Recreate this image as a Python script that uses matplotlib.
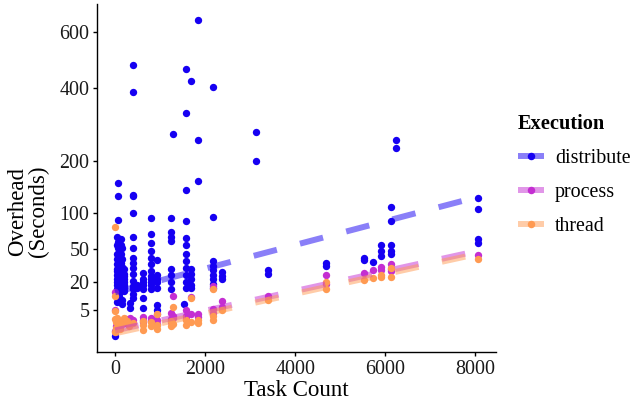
import numpy as np
import matplotlib
matplotlib.use("Agg")
import matplotlib.pyplot as plt
from matplotlib.lines import Line2D

plt.rcParams['font.family'] = ['Liberation Serif', 'DejaVu Serif']

# ---------------- data ----------------
groups = ["distribute", "process", "thread"]
colors = ["#1600F2", "#C42ED2", "#FF9A52"]

# distribute: task count, overhead (s)
dist_x = (
    [1]
    + [32] * 14 + [64] * 15 + [96] * 12 + [128] * 10 + [160] * 10 + [192] * 8
    + [406] * 16 + [333] * 2 + [480] * 2 + [628] * 7 + [800] * 12 + [925] * 7
    + [1235] * 8 + [1280] * 1 + [1537] * 1 + [1574] * 12 + [1685] * 6 + [1840] * 3
    + [2180] * 9 + [2366] * 3 + [3126] * 2 + [3400] * 2 + [4680] * 2
    + [5520] * 2 + [5720] * 1 + [5910] * 3 + [6120] * 5 + [6245] * 2 + [8056] * 4
)
dist_y = (
    [0.01]
    + [8, 12, 15, 18, 20, 22, 25, 28, 30, 35, 40, 45, 55, 65]
    + [9, 13, 16, 19, 22, 24, 27, 31, 36, 44, 52, 58, 153, 128, 88]
    + [11, 15, 18, 20, 23, 26, 30, 34, 39, 47, 55, 62]
    + [14, 18, 20, 22, 25, 30, 36, 45, 55, 62]
    + [17, 19, 21, 23, 27, 32, 40, 52, 9, 7]
    + [18, 20, 22, 24, 26, 16, 14, 30]
    + [477, 389, 131, 128, 99.5, 65, 52, 41, 36, 31, 25.5, 20.4, 17, 15, 12, 10]
    + [7.7, 5.6]
    + [15.8, 18]
    + [26.9, 18, 14.8, 10, 5.6, 22, 20]
    + [91, 68.6, 57.8, 48.1, 40.9, 34.4, 28.3, 18, 14.8, 20, 22, 24]
    + [38.3, 6.9, 5.0, 20, 22, 25, 16]
    + [91.5, 71, 65, 60, 29.8, 25, 20, 14.8]
    + [265]
    + [7.2]
    + [464, 324, 140, 87.5, 64, 55, 45, 37.6, 31.2, 25, 20, 15.8]
    + [424, 30, 26, 22, 18, 15.6]
    + [649, 252, 157]
    + [405, 93.6, 37.6, 33, 29, 25, 21.7, 18.5, 15.8]
    + [27.5, 24.5, 21.9]
    + [271, 201]
    + [28.9, 26]
    + [35.9, 32.8]
    + [40.6, 38.5]
    + [36.5]
    + [55, 48, 43]
    + [110, 87.5, 55, 48, 44.8]
    + [250, 230]
    + [125, 106, 62, 57.8]
)

proc_x = [5, 20, 40, 60, 80, 100, 150, 200, 250, 300, 330, 400, 2, 2,
          628, 628, 628, 800, 800, 925, 925, 925, 1235, 1235, 1235,
          1280, 1280, 1280, 1574, 1574, 1574, 1685, 1685, 1840, 1840,
          2180, 2180, 2180, 2366, 2366, 3400, 4680, 4680,
          5520, 5720, 5910, 5910, 6120, 6120, 6120, 8056]
proc_y = [0.3, 0.8, 1.2, 0.5, 1.5, 1.0, 1.8, 1.3, 2.2, 1.6, 2.5, 1.9, 13.5, 5.0,
          2.0, 2.8, 1.5, 2.5, 1.8, 2.0, 3.5, 1.2, 2.2, 3.8, 1.6,
          11.0, 3.0, 2.5, 4.7, 3.0, 2.2, 3.4, 10.5, 2.6, 3.5,
          16.9, 5.1, 3.8, 8.4, 6.0, 11.3, 25.0, 18.5,
          26.6, 29.0, 31.9, 29.0, 34.6, 28.0, 30.0, 43.7]

thr_x = [2, 5, 5, 5, 5, 10, 20, 30, 50, 70, 90, 120, 160, 200, 260, 300, 400,
         628, 628, 628, 800, 800, 925, 925, 925, 1235, 1235, 1280, 1280,
         1574, 1574, 1685, 1685, 1840, 1840, 2180, 2180, 2180, 2366, 3400,
         4680, 4680, 5520, 5720, 5910, 5910, 6120, 6120, 8056]
thr_y = [78.7, 0.2, 10.9, 4.4, 2.1, 0.4, 1.5, 0.6, 2.5, 0.9, 1.8, 0.5, 1.2, 2.4, 1.8, 0.8, 1.4,
         0.4, 1.8, 1.0, 1.5, 0.8, 3.5, 1.0, 0.5, 0.8, 1.8, 5.85, 1.2,
         0.94, 2.0, 10.0, 1.5, 1.33, 2.0, 14.8, 2.9, 2.0, 5.0, 9.2,
         20.0, 15.0, 21.0, 22.6, 23.4, 25.0, 31.0, 23.4, 39.3]

# linear trend fitted on sqrt(overhead): sqrt(y) = a + b * x
fit_a = [3.62, 0.56, 0.33]
fit_b = [0.000950, 0.000792, 0.000791]

x_ticks = [0, 2000, 4000, 6000, 8000]
y_ticks = [5, 20, 50, 100, 200, 400, 600]

# ---------------- plot ----------------
def fwd(v):
    v = np.asarray(v, dtype=float)
    return np.sign(v) * np.sqrt(np.abs(v))

def inv(v):
    v = np.asarray(v, dtype=float)
    return np.sign(v) * v ** 2

fig = plt.figure(figsize=(6.35, 4.05), dpi=100)
ax = fig.add_axes([97 / 635, 1 - 352 / 405, (496 - 97) / 635, (352 - 4) / 405])
ax.set_yscale('function', functions=(fwd, inv))

xs = [dist_x, proc_x, thr_x]
ys = [dist_y, proc_y, thr_y]

for gx, gy, c in zip(xs, ys, colors):
    ax.scatter(gx, gy, s=28, color=c, linewidths=0, zorder=2)

for gx, a, b, c in zip(xs, fit_a, fit_b, colors):
    xx = np.linspace(min(gx), max(gx), 200)
    yy = (a + b * xx) ** 2
    ax.plot(xx, yy, color=c, alpha=0.5, lw=4.3, ls=(0, (4, 4)),
            dash_capstyle='butt', solid_capstyle='butt', zorder=3)

# limits with 5% expansion
allx = np.concatenate([np.asarray(v, float) for v in xs])
ally = fwd(np.concatenate([np.asarray(v, float) for v in ys]))
xr = allx.max() - allx.min()
ax.set_xlim(allx.min() - 0.05 * xr, allx.max() + 0.05 * xr)
yr = ally.max() - ally.min()
ax.set_ylim(inv(ally.min() - 0.05 * yr), inv(ally.max() + 0.05 * yr))

ax.set_xticks(x_ticks)
ax.set_xticklabels([str(t) for t in x_ticks])
ax.set_yticks(y_ticks)
ax.set_yticklabels([str(t) for t in y_ticks])
ax.minorticks_off()

for s in ['top', 'right']:
    ax.spines[s].set_visible(False)
for s in ['left', 'bottom']:
    ax.spines[s].set_linewidth(1.0)
ax.tick_params(axis='both', length=3.2, width=1.0, color='black',
               labelsize=14.4, labelcolor='#1a1a1a', pad=2.2)

fig.text(296.5 / 635, 1 - 390 / 405, "Task Count", ha='center', va='center',
         fontsize=16.5, color='black')
fig.text(28 / 635, 1 - 211 / 405, "Overhead\n(Seconds)", ha='center', va='center',
         rotation=90, fontsize=16.5, color='black', linespacing=1.0,
         multialignment='center')

handles = []
for c in colors:
    ln = Line2D([], [], color=c, alpha=0.5, lw=4.3, solid_capstyle='butt')
    pt = Line2D([], [], color=c, marker='o', ls='none', markersize=5.4,
                markeredgewidth=0)
    handles.append((ln, pt))
leg = fig.legend(handles, groups, loc='upper left',
                 bbox_to_anchor=(518 / 635, 1 - 114 / 405), frameon=False,
                 borderpad=0, borderaxespad=0, handlelength=1.3,
                 handletextpad=0.55, labelspacing=0.75, fontsize=14.4,
                 title="Execution", alignment='left')
leg.get_title().set_fontweight('bold')
leg.get_title().set_fontsize(14.7)

fig.savefig("out.png", dpi=100)
